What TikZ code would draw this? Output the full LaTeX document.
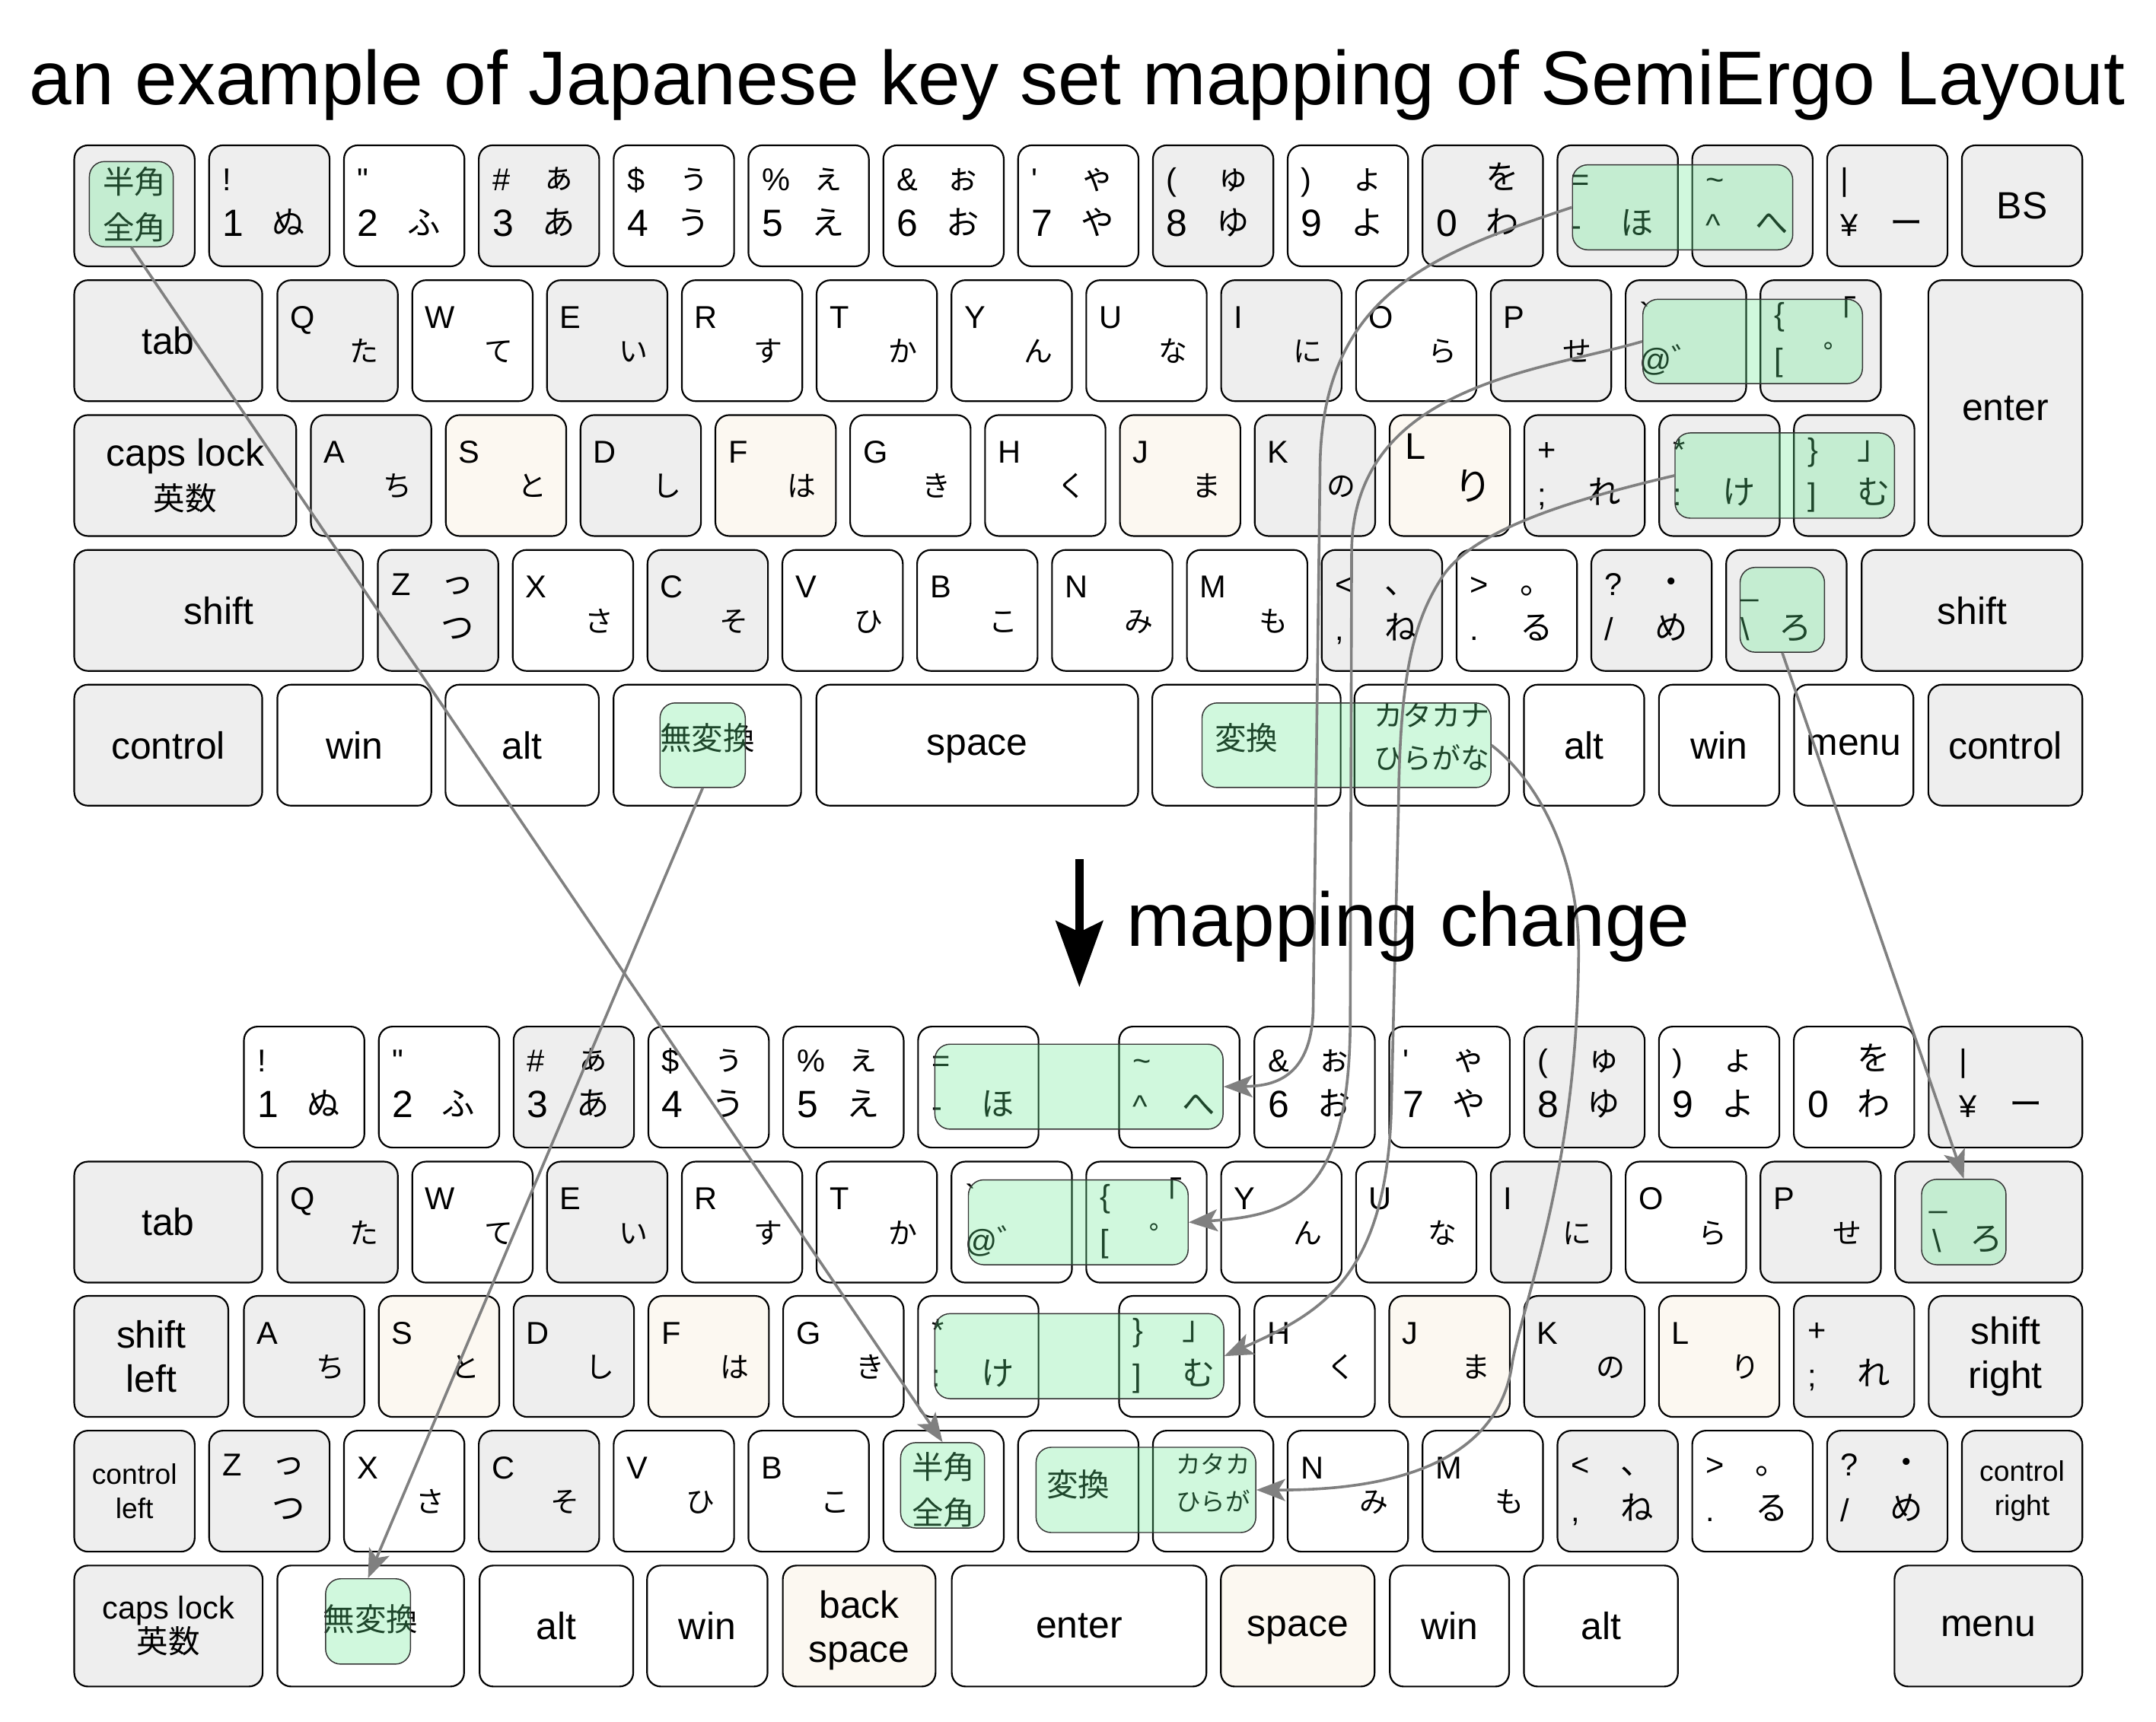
\documentclass[tikz,border=0pt]{standalone}
\usepackage{fontspec}
\setmainfont{Liberation Sans}
\newfontfamily\jp{Noto Sans CJK JP}
\usetikzlibrary{arrows.meta}

\definecolor{keygray}{RGB}{238,238,238}
\definecolor{keycream}{RGB}{252,248,241}
\definecolor{hlgreen}{RGB}{100,235,145}
\definecolor{linkgray}{RGB}{128,128,128}

\newcommand{\fsym}{\fontsize{11.5}{13}\selectfont}

\tikzset{
  keycap/.style={draw=black, line width=0.6pt, rounded corners=5pt, inner sep=0pt},
  hl/.style={draw=black!80, line width=0.4pt, rounded corners=5.5pt, fill=hlgreen, fill opacity=0.3, inner sep=0pt},
  ksym/.style={inner sep=0pt, anchor=base west, font=\fsym},
  knum/.style={inner sep=0pt, anchor=base west, font=\fontsize{13.8}{16}\selectfont},
  klet/.style={inner sep=0pt, anchor=base west, font=\fontsize{11.5}{13}\selectfont},
  kkana/.style={inner sep=0pt, anchor=base, font=\jp\fontsize{12}{14}\selectfont},
  kkanal/.style={inner sep=0pt, anchor=base, font=\jp\fontsize{10.5}{12}\selectfont},
  kname/.style={inner sep=0pt, align=center, font=\fontsize{13.8}{16}\selectfont},
  kdesc/.style={kname, yshift=-1.5pt},
  kctl/.style={inner sep=0pt, align=center, font=\fontsize{10.3}{12.5}\selectfont},
  kcaps/.style={inner sep=0pt, align=center, font=\fontsize{11.5}{12.5}\selectfont},
  kjp/.style={inner sep=0pt, align=center, yshift=2.5pt, font=\jp\fontsize{11.5}{14}\selectfont},
  kjp2/.style={inner sep=0pt, align=center, yshift=0.5pt, font=\jp\fontsize{11.5}{16.8}\selectfont},
  kjps/.style={inner sep=0pt, align=center, yshift=3pt, font=\jp\fontsize{10.5}{15.5}\selectfont},
  kjpxs/.style={inner sep=0pt, align=center, yshift=3pt, font=\jp\fontsize{9}{13.8}\selectfont},
  link/.style={draw=linkgray, line width=1pt, -{Stealth[length=10.5pt, width=8pt, inset=2.5pt]}},
  bigarrow/.style={draw=black, line width=3pt, -{Stealth[length=24pt, width=17pt, inset=4pt]}},
  heading/.style={inner sep=0pt, font=\fontsize{27.7}{33}\selectfont},
}

% key body: name, left, top, width, height, fill
\newcommand{\keycap}[6]{%
  \node[keycap, fill=#6, minimum width={#4*0.5pt}, minimum height={#5*0.5pt}] (#1) at ({#2+#4/2},{#3+#5/2}) {};}
% key with one centred label
\newcommand{\namekey}[8][kname]{%
  \keycap{#2}{#3}{#4}{#5}{#6}{#7}
  \node[#1] (#2t) at (#2.center) {#8};}
% key with four corner labels: name, left, top, fill, top sym, top kana, bottom sym, bottom kana
\newcommand{\numkey}[8]{%
  \keycap{#1}{#2}{#3}{87.6}{88}{#4}
  \node[ksym] (#1ts) at ({#2+9.5},{#3+33}) {#5};
  \node[kkana] (#1tk) at ({#2+58},{#3+32}) {#6};
  \node[knum] (#1bs) at ({#2+9.5},{#3+66}) {#7};
  \node[kkana] (#1bk) at ({#2+58},{#3+65}) {#8};}
% letter key: name, left, top, fill, letter, kana
\newcommand{\letkey}[6]{%
  \keycap{#1}{#2}{#3}{87.6}{88}{#4}
  \node[klet] (#1l) at ({#2+9},{#3+35}) {#5};
  \node[kkanal] (#1k) at ({#2+63},{#3+59.5}) {#6};}
% green mark: name, left, top, right, bottom
\newcommand{\hlbox}[5]{%
  \node[hl, minimum width={(#4-#2)*0.5pt}, minimum height={(#5-#3)*0.5pt}] (#1) at ({(#2+#4)/2},{(#3+#5)/2}) {};}

\begin{document}
\begin{tikzpicture}[x=0.5pt, y=-0.5pt]
\useasboundingbox (0,0) rectangle (1568,1252);
\fill[white] (0,0) rectangle (1568,1252);

\node[heading, anchor=base] (title) at (783.5,76) {an example of Japanese key set mapping of SemiErgo Layout};

% ---------- before ----------
% number row
\namekey[kjp2]{t00}{54}{105.7}{87.6}{88}{keygray}{半角\\全角}
\numkey{t01}{152.1}{105.7}{keygray}{!}{}{1}{ぬ}
\numkey{t02}{250.2}{105.7}{white}{\textquotedbl}{}{2}{ふ}
\numkey{t03}{348.2}{105.7}{keygray}{\#}{ぁ}{3}{あ}
\numkey{t04}{446.3}{105.7}{white}{\$}{ぅ}{4}{う}
\numkey{t05}{544.3}{105.7}{white}{\%}{ぇ}{5}{え}
\numkey{t06}{642.4}{105.7}{white}{\&}{ぉ}{6}{お}
\numkey{t07}{740.4}{105.7}{white}{\textquotesingle}{ゃ}{7}{や}
\numkey{t08}{838.5}{105.7}{keygray}{(}{ゅ}{8}{ゆ}
\numkey{t09}{936.5}{105.7}{white}{)}{ょ}{9}{よ}
\numkey{t10}{1034.6}{105.7}{keygray}{}{を}{0}{わ}
\numkey{t11}{1132.7}{105.7}{keygray}{=}{}{\fsym -}{ほ}
\numkey{t12}{1230.7}{105.7}{keygray}{\textasciitilde}{}{\fsym \textasciicircum}{へ}
\numkey{t13}{1328.8}{105.7}{keygray}{|}{}{\fsym ¥}{ー}
\namekey{t14}{1426.8}{105.7}{87.6}{88}{keygray}{BS}

% top letter row
\namekey{t20}{54}{203.8}{136.7}{88}{keygray}{tab}
\letkey{t21}{201.7}{203.8}{keygray}{Q}{た}
\letkey{t22}{299.8}{203.8}{white}{W}{て}
\letkey{t23}{397.8}{203.8}{keygray}{E}{い}
\letkey{t24}{495.9}{203.8}{white}{R}{す}
\letkey{t25}{593.9}{203.8}{white}{T}{か}
\letkey{t26}{692}{203.8}{white}{Y}{ん}
\letkey{t27}{790}{203.8}{white}{U}{な}
\letkey{t28}{888.1}{203.8}{keygray}{I}{に}
\letkey{t29}{986.2}{203.8}{white}{O}{ら}
\letkey{t2a}{1084.2}{203.8}{keygray}{P}{せ}
\numkey{t2b}{1182.3}{203.8}{keygray}{\textasciigrave}{}{\fsym @{\jp ゛}}{}
\numkey{t2c}{1280.3}{203.8}{keygray}{\{}{「}{\fsym [}{゜}
\namekey{t2d}{1402.4}{203.8}{112}{186.1}{keygray}{enter}

% home row
\namekey{t30}{54}{301.9}{161.4}{88}{keygray}{caps lock\\{\jp\fontsize{11.5}{15}\selectfont 英数}}
\letkey{t31}{226.1}{301.9}{keygray}{A}{ち}
\letkey{t32}{324.2}{301.9}{keycream}{S}{と}
\letkey{t33}{422.2}{301.9}{keygray}{D}{し}
\letkey{t34}{520.3}{301.9}{keycream}{F}{は}
\letkey{t35}{618.3}{301.9}{white}{G}{き}
\letkey{t36}{716.4}{301.9}{white}{H}{く}
\letkey{t37}{814.5}{301.9}{keycream}{J}{ま}
\letkey{t38}{912.5}{301.9}{keygray}{K}{の}
\keycap{t39}{1010.6}{301.9}{87.6}{88}{keycream}
\node[klet, font=\fontsize{13.5}{15}\selectfont] (t39l) at (1021.6,333.9) {L};
\node[kkana, font=\jp\fontsize{14}{16}\selectfont] (t39k) at (1071.6,364) {り};
\numkey{t3a}{1108.6}{301.9}{keygray}{+}{}{\fsym ;}{れ}
\numkey{t3b}{1206.7}{301.9}{keygray}{*}{}{\fsym :}{け}
\numkey{t3c}{1304.7}{301.9}{keygray}{\}}{」}{\fsym ]}{む}

% bottom letter row
\namekey{t40}{54}{400}{210}{88}{keygray}{shift}
\numkey{t41}{274.8}{400}{keygray}{Z}{っ}{}{つ}
\letkey{t42}{372.9}{400}{white}{X}{さ}
\letkey{t43}{470.9}{400}{keygray}{C}{そ}
\letkey{t44}{569}{400}{white}{V}{ひ}
\letkey{t45}{667}{400}{white}{B}{こ}
\letkey{t46}{765.1}{400}{white}{N}{み}
\letkey{t47}{863.2}{400}{white}{M}{も}
\numkey{t48}{961.2}{400}{keygray}{<}{、}{\fsym ,}{ね}
\numkey{t49}{1059.3}{400}{white}{>}{。}{\fsym .}{る}
\numkey{t4a}{1157.3}{400}{keygray}{?}{・}{\fsym /}{め}
\keycap{t4b}{1255.4}{400}{87.6}{88}{keygray}
\node[ksym] (t4bts) at (1265.5,433) {\_};
\node[ksym] (t4bbs) at (1265.5,466) {\textbackslash};
\node[kkana] (t4bbk) at (1306,465) {ろ};
\namekey{t4c}{1353.9}{400}{160.5}{88}{keygray}{shift}

% space row
\namekey{t50}{54}{498}{136.7}{88}{keygray}{control}
\namekey{t51}{201.7}{498}{112}{88}{white}{win}
\namekey{t52}{324}{498}{111.5}{88}{white}{alt}
\namekey[kjp]{t53}{446.2}{498}{136.4}{88}{white}{無変換}
\namekey[kdesc]{t54}{593.7}{498}{234}{88}{white}{space}
\namekey[kjp]{t55}{838}{498}{137}{88}{white}{変換}
\namekey[kjps]{t56}{985}{498}{112.5}{88}{white}{カタカナ\\ひらがな}
\namekey{t57}{1108.3}{498}{87.5}{88}{white}{alt}
\namekey{t58}{1206.5}{498}{87.5}{88}{white}{win}
\namekey{t59}{1304.8}{498}{86.8}{88}{white}{menu}
\namekey{t5a}{1402.4}{498}{112}{88}{keygray}{control}

% ---------- after ----------
% number row
\numkey{b11}{177.4}{746.7}{white}{!}{}{1}{ぬ}
\numkey{b12}{275.5}{746.7}{white}{\textquotedbl}{}{2}{ふ}
\numkey{b13}{373.5}{746.7}{keygray}{\#}{ぁ}{3}{あ}
\numkey{b14}{471.6}{746.7}{white}{\$}{ぅ}{4}{う}
\numkey{b15}{569.6}{746.7}{white}{\%}{ぇ}{5}{え}
\numkey{b16}{667.7}{746.7}{white}{=}{}{\fsym -}{ほ}
\numkey{b17}{813.9}{746.7}{white}{\textasciitilde}{}{\fsym \textasciicircum}{へ}
\numkey{b18}{912.3}{746.7}{white}{\&}{ぉ}{6}{お}
\numkey{b19}{1010.4}{746.7}{white}{\textquotesingle}{ゃ}{7}{や}
\numkey{b1a}{1108.5}{746.7}{keygray}{(}{ゅ}{8}{ゆ}
\numkey{b1b}{1206.5}{746.7}{white}{)}{ょ}{9}{よ}
\numkey{b1c}{1304.6}{746.7}{white}{}{を}{0}{わ}
\keycap{b1d}{1402.7}{746.7}{111.7}{88}{keygray}
\node[ksym] (b1dts) at (1424.5,779.7) {|};
\node[ksym] (b1dbs) at (1424.5,812.7) {¥};
\node[kkana] (b1dbk) at (1473.6,811.7) {ー};

% top letter row
\namekey{b20}{54}{844.9}{136.7}{88}{keygray}{tab}
\letkey{b21}{201.7}{844.9}{keygray}{Q}{た}
\letkey{b22}{299.8}{844.9}{white}{W}{て}
\letkey{b23}{397.8}{844.9}{keygray}{E}{い}
\letkey{b24}{495.9}{844.9}{white}{R}{す}
\letkey{b25}{593.9}{844.9}{white}{T}{か}
\numkey{b26}{692}{844.9}{white}{\textasciigrave}{}{\fsym @{\jp ゛}}{}
\numkey{b27}{790}{844.9}{white}{\{}{「}{\fsym [}{゜}
\letkey{b28}{888.1}{844.9}{white}{Y}{ん}
\letkey{b29}{986.2}{844.9}{white}{U}{な}
\letkey{b2a}{1084.2}{844.9}{keygray}{I}{に}
\letkey{b2b}{1182.3}{844.9}{white}{O}{ら}
\letkey{b2c}{1280.3}{844.9}{keygray}{P}{せ}
\keycap{b2d}{1378.3}{844.9}{136.1}{88}{keygray}
\node[ksym] (b2dts) at (1403,877.9) {\_};
\node[ksym] (b2dbs) at (1405,910.9) {\textbackslash};
\node[kkana] (b2dbk) at (1444.4,909.9) {ろ};

% home row
\namekey{b30}{54}{942.6}{112}{88}{keygray}{shift\\left}
\letkey{b31}{177.4}{942.6}{keygray}{A}{ち}
\letkey{b32}{275.5}{942.6}{keycream}{S}{と}
\letkey{b33}{373.5}{942.6}{keygray}{D}{し}
\letkey{b34}{471.6}{942.6}{keycream}{F}{は}
\letkey{b35}{569.6}{942.6}{white}{G}{き}
\numkey{b36}{667.7}{942.6}{white}{*}{}{\fsym :}{け}
\numkey{b37}{813.9}{942.6}{white}{\}}{」}{\fsym ]}{む}
\letkey{b38}{912.3}{942.6}{white}{H}{く}
\letkey{b39}{1010.4}{942.6}{keycream}{J}{ま}
\letkey{b3a}{1108.5}{942.6}{keygray}{K}{の}
\letkey{b3b}{1206.5}{942.6}{keycream}{L}{り}
\numkey{b3c}{1304.6}{942.6}{keygray}{+}{}{\fsym ;}{れ}
\namekey{b3d}{1402.7}{942.6}{111.7}{88}{keygray}{shift\\right}

% bottom letter row
\namekey[kctl]{b40}{54}{1040.6}{87.6}{88}{keygray}{control\\left}
\numkey{b41}{152.1}{1040.6}{keygray}{Z}{っ}{}{つ}
\letkey{b42}{250.2}{1040.6}{white}{X}{さ}
\letkey{b43}{348.2}{1040.6}{keygray}{C}{そ}
\letkey{b44}{446.3}{1040.6}{white}{V}{ひ}
\letkey{b45}{544.3}{1040.6}{white}{B}{こ}
\namekey[kjp2]{b46}{642.4}{1040.6}{87.6}{88}{white}{半角\\全角}
\namekey[kjp]{b47}{740.4}{1040.6}{87.6}{88}{white}{変換}
\namekey[kjpxs]{b48}{838.5}{1040.6}{87.6}{88}{white}{カタカ\\ひらが}
\letkey{b49}{936.5}{1040.6}{white}{N}{み}
\letkey{b4a}{1034.6}{1040.6}{white}{M}{も}
\numkey{b4b}{1132.7}{1040.6}{keygray}{<}{、}{\fsym ,}{ね}
\numkey{b4c}{1230.7}{1040.6}{white}{>}{。}{\fsym .}{る}
\numkey{b4d}{1328.8}{1040.6}{keygray}{?}{・}{\fsym /}{め}
\namekey[kctl]{b4e}{1426.8}{1040.6}{87.6}{88}{keygray}{control\\right}

% thumb row
\namekey[kcaps]{b50}{54}{1138.7}{137}{88}{keygray}{caps lock\\{\jp 英数}}
\namekey[kjp]{b51}{201.7}{1138.7}{135.8}{88}{white}{無変換}
\namekey{b52}{348.8}{1138.7}{111.7}{88}{white}{alt}
\namekey{b53}{470.6}{1138.7}{87.6}{88}{white}{win}
\namekey[kdesc]{b54}{569.3}{1138.7}{111.1}{88}{keycream}{back\\space}
\namekey{b55}{692.2}{1138.7}{185.2}{88}{white}{enter}
\namekey[kdesc]{b56}{887.9}{1138.7}{111.8}{88}{keycream}{space}
\namekey{b57}{1010.8}{1138.7}{86.7}{88}{white}{win}
\namekey{b58}{1108.3}{1138.7}{112}{88}{white}{alt}
\namekey{b59}{1377.8}{1138.7}{136.6}{88}{keygray}{menu}

% green marks, before
\hlbox{hzT}{65}{117.5}{126}{179.5}
\hlbox{minusT}{1143.6}{119.9}{1303.8}{181.7}
\hlbox{atT}{1194.8}{217.7}{1354.5}{279}
\hlbox{colonT}{1218.2}{314.9}{1377.8}{376.9}
\hlbox{bslT}{1265.5}{412.7}{1326.9}{474.4}
\hlbox{muhenT}{480}{511.3}{542}{572.8}
\hlbox{henT}{874.2}{511.3}{1084.3}{572.8}
% green marks, after
\hlbox{hzB}{655}{1049.3}{716}{1111.4}
\hlbox{minusB}{679.9}{759.5}{889.5}{821.3}
\hlbox{atB}{704.3}{858.2}{864.1}{919.9}
\hlbox{colonB}{679.9}{955.5}{890}{1017.3}
\hlbox{bslB}{1397.5}{857.8}{1458.9}{919.9}
\hlbox{henB}{753.5}{1052.7}{913.3}{1114.7}
\hlbox{muhenB}{236.8}{1148.3}{298.5}{1210.4}

% moves
\draw[link] (hzT.south) -- (hzB.north);
\draw[link] (muhenT.south) -- (muhenB.north);
\draw[link] (bslT.south) -- (bslB.north);
\draw[link] (minusT.west) .. controls (1040,185) and (960,215) .. (960,343) -- (955,736) .. controls (953,785) and (925,790) .. (minusB.east);
\draw[link] (atT.west) .. controls (1120,270) and (985,280) .. (983,400) -- (982,740) .. controls (982,870) and (940,884) .. (atB.east);
\draw[link] (colonT.west) .. controls (1150,362) and (1075,383) .. (1050,418) .. controls (1025,455) and (1018,500) .. (1017,590) -- (1012,800) .. controls (1010,930) and (960,955) .. (colonB.east);
\draw[link] (henT.east) .. controls (1115,565) and (1150,620) .. (1148,700) .. controls (1146,850) and (1110,940) .. (1100,990) .. controls (1090,1070) and (1000,1084) .. (henB.east);

% big arrow
\coordinate (arrowtop) at (785,625);
\coordinate (arrowtip) at (785,718);
\draw[bigarrow] (arrowtop) -- (arrowtip);
\node[heading, anchor=base west] (change) at (819,688) {mapping change};
\end{tikzpicture}
\end{document}
